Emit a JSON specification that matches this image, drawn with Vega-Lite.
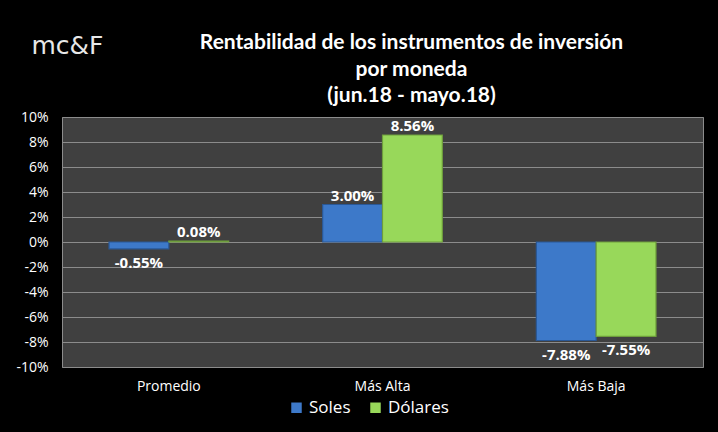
{
  "$schema": "https://vega.github.io/schema/vega-lite/v6.json",
  "width": 641,
  "height": 250,
  "autosize": {"type": "none"},
  "padding": {"left": 62, "top": 117, "right": 15, "bottom": 65},
  "background": "black",
  "config": {
    "font": "Lato",
    "locale": {"number": {"decimal": ".", "thousands": ",", "grouping": [3], "currency": ["$", ""], "minus": "-"}},
    "view": {"fill": "#404040", "stroke": "#8c8c8c", "strokeWidth": 1}
  },
  "title": {
    "text": ["Rentabilidad de los instrumentos de inversión", "por moneda", "(jun.18 - mayo.18)"],
    "color": "white",
    "font": "Lato",
    "fontSize": 21,
    "fontWeight": "bold",
    "lineHeight": 26.5,
    "offset": 6,
    "dx": 29,
    "dy": 79,
    "anchor": "middle"
  },
  "data": {
    "values": [
      {"categoria": "Promedio", "moneda": "Soles", "valor": -0.0055},
      {"categoria": "Promedio", "moneda": "Dólares", "valor": 0.0008},
      {"categoria": "Más Alta", "moneda": "Soles", "valor": 0.03},
      {"categoria": "Más Alta", "moneda": "Dólares", "valor": 0.0856},
      {"categoria": "Más Baja", "moneda": "Soles", "valor": -0.0788},
      {"categoria": "Más Baja", "moneda": "Dólares", "valor": -0.0755}
    ]
  },
  "encoding": {
    "x": {
      "field": "categoria",
      "type": "nominal",
      "sort": ["Promedio", "Más Alta", "Más Baja"],
      "scale": {"paddingInner": 0.44, "paddingOuter": 0.22},
      "axis": {
        "title": null,
        "labelAngle": 0,
        "labelColor": "white",
        "labelFontSize": 14,
        "labelFont": "Open Sans",
        "labelPadding": 12,
        "ticks": false,
        "domain": false
      }
    },
    "xOffset": {"field": "moneda", "sort": ["Soles", "Dólares"], "scale": {"paddingInner": 0}},
    "y": {
      "field": "valor",
      "type": "quantitative",
      "scale": {"domain": [-0.1, 0.1], "nice": false},
      "axis": {
        "title": "mc&F",
        "titleAngle": 0,
        "titleX": -31,
        "titleY": -72,
        "titleAlign": "left",
        "titleBaseline": "middle",
        "titleColor": "#e8e8e8",
        "titleFont": "DejaVu Sans",
        "titleFontSize": 25,
        "titleFontWeight": "normal",
        "format": ".0%",
        "values": [-0.1, -0.08, -0.06, -0.04, -0.02, 0, 0.02, 0.04, 0.06, 0.08, 0.1],
        "labelColor": "white",
        "labelFontSize": 14,
        "labelFont": "Open Sans",
        "labelPadding": 14,
        "ticks": false,
        "domain": false,
        "gridColor": "#8c8c8c",
        "gridWidth": 1.2
      }
    }
  },
  "layer": [
    {
      "mark": {"type": "bar", "strokeWidth": 1.2},
      "encoding": {
        "color": {
          "field": "moneda",
          "type": "nominal",
          "sort": ["Soles", "Dólares"],
          "scale": {"domain": ["Soles", "Dólares"], "range": ["#3d79c9", "#98d85a"]},
          "legend": {
            "title": null,
            "orient": "none",
            "legendX": 226,
            "legendY": 282,
            "direction": "horizontal",
            "labelColor": "white",
            "labelFontSize": 17,
            "labelFont": "Open Sans",
            "symbolType": "square",
            "symbolSize": 110,
            "symbolStrokeWidth": 0,
            "symbolOpacity": 1,
            "columnPadding": 16,
            "labelOffset": 4
          }
        },
        "stroke": {
          "field": "moneda",
          "type": "nominal",
          "scale": {"domain": ["Soles", "Dólares"], "range": ["#2a5896", "#6e9e3c"]},
          "legend": null
        }
      }
    },
    {
      "transform": [{"filter": "datum.valor >= 0"}],
      "mark": {"type": "text", "baseline": "bottom", "dy": -1, "color": "white", "fontSize": 15, "fontWeight": "bold", "font": "Open Sans"},
      "encoding": {"text": {"field": "valor", "type": "quantitative", "format": ".2%"}}
    },
    {
      "transform": [{"filter": "datum.valor < 0"}],
      "mark": {"type": "text", "baseline": "top", "dy": 7, "color": "white", "fontSize": 15, "fontWeight": "bold", "font": "Open Sans"},
      "encoding": {"text": {"field": "valor", "type": "quantitative", "format": ".2%"}}
    }
  ]
}
